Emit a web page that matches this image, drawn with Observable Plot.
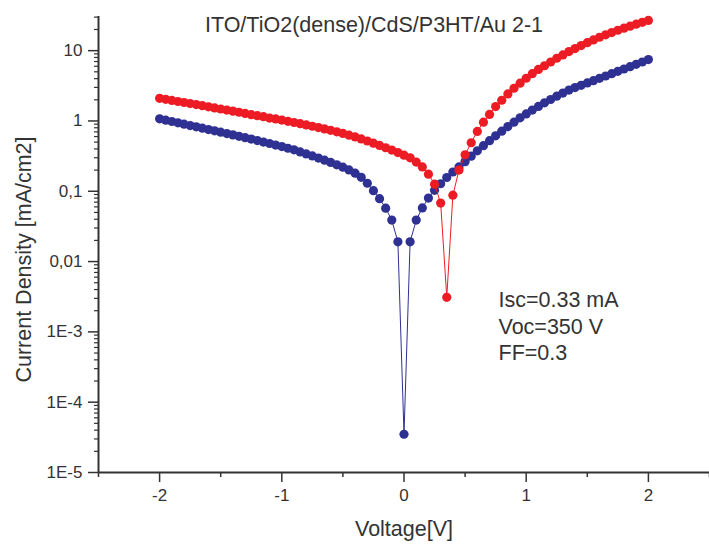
<!DOCTYPE html>
<html>
<head>
<meta charset="utf-8">
<script src="https://cdn.jsdelivr.net/npm/d3@7"></script>
<script src="https://cdn.jsdelivr.net/npm/@observablehq/plot@0.6"></script>
<style>
  html, body { margin: 0; padding: 0; background: #fff; }
</style>
</head>
<body>
<div id="chart"></div>
<script>
const titleText = "ITO/TiO2(dense)/CdS/P3HT/Au 2-1";
const xLabel = "Voltage[V]";
const yLabel = "Current Density [mA/cm2]";
const annotation = "Isc=0.33 mA\nVoc=350 V\nFF=0.3";

const voltages = [
  -2.00, -1.95, -1.90, -1.85, -1.80, -1.75, -1.70, -1.65, -1.60, -1.55,
  -1.50, -1.45, -1.40, -1.35, -1.30, -1.25, -1.20, -1.15, -1.10, -1.05,
  -1.00, -0.95, -0.90, -0.85, -0.80, -0.75, -0.70, -0.65, -0.60, -0.55,
  -0.50, -0.45, -0.40, -0.35, -0.30, -0.25, -0.20, -0.15, -0.10, -0.05,
  0.00,
  0.05, 0.10, 0.15, 0.20, 0.25, 0.30, 0.35, 0.40, 0.45, 0.50,
  0.55, 0.60, 0.65, 0.70, 0.75, 0.80, 0.85, 0.90, 0.95, 1.00,
  1.05, 1.10, 1.15, 1.20, 1.25, 1.30, 1.35, 1.40, 1.45, 1.50,
  1.55, 1.60, 1.65, 1.70, 1.75, 1.80, 1.85, 1.90, 1.95, 2.00
];

const blueJ = [
  1.072, 1.026, 0.982, 0.940, 0.900, 0.861, 0.824, 0.789, 0.755, 0.723,
  0.692, 0.662, 0.634, 0.605, 0.578, 0.552, 0.526, 0.501, 0.478, 0.454,
  0.432, 0.409, 0.388, 0.363, 0.340, 0.318, 0.297, 0.277, 0.257, 0.238,
  0.220, 0.201, 0.181, 0.158, 0.130, 0.102, 0.0785, 0.0575, 0.0389, 0.0191,
  0.000035,
  0.0191, 0.0389, 0.058, 0.080, 0.103, 0.128, 0.157, 0.188, 0.222, 0.264,
  0.316, 0.376, 0.445, 0.524, 0.614, 0.716, 0.832, 0.962, 1.107, 1.26,
  1.43, 1.61, 1.81, 2.02, 2.25, 2.49, 2.75, 2.98, 3.21, 3.47,
  3.74, 4.04, 4.36, 4.70, 5.08, 5.48, 5.92, 6.40, 6.90, 7.46
];

const redJ = [
  2.10, 2.03, 1.96, 1.89, 1.83, 1.77, 1.71, 1.65, 1.59, 1.53,
  1.48, 1.43, 1.38, 1.33, 1.28, 1.23, 1.19, 1.15, 1.10, 1.07,
  1.03, 0.989, 0.951, 0.914, 0.877, 0.841, 0.805, 0.771, 0.736, 0.700,
  0.664, 0.627, 0.592, 0.555, 0.519, 0.483, 0.449, 0.416, 0.385, 0.355,
  0.326,
  0.299, 0.26, 0.222, 0.175, 0.126, 0.068, 0.0031, 0.088, 0.20, 0.33,
  0.49, 0.71, 0.96, 1.24, 1.60, 1.97, 2.42, 2.92, 3.45, 4.05,
  4.70, 5.40, 6.10, 6.90, 7.80, 8.70, 9.70, 10.7, 11.8, 13.0,
  14.2, 15.5, 16.8, 18.1, 19.5, 20.9, 22.3, 23.8, 25.3, 26.9
];

const xMajorTicks = [-2, -1, 0, 1, 2];
const xMinorTicks = [-2.5, -1.5, -0.5, 0.5, 1.5, 2.5];
const yMajorTicks = [1e-5, 1e-4, 1e-3, 0.01, 0.1, 1, 10];
const yMajorLabels = ["1E-5", "1E-4", "1E-3", "0,01", "0,1", "1", "10"];
const yMinorTicks = [];
for (const d of yMajorTicks) for (let k = 2; k <= 9; k++) if (d * k <= 30.6) yMinorTicks.push(d * k);

const blueColor = "#2e3192";
const redColor = "#ed1c24";
const ink = "#333333";

const blue = voltages.map((v, i) => ({v, j: blueJ[i]}));
const red = voltages.map((v, i) => ({v, j: redJ[i]}));

const labelMap = new Map(yMajorTicks.map((t, i) => [t, yMajorLabels[i]]));

const chart = Plot.plot({
  width: 709,
  height: 547,
  marginLeft: 98,
  marginRight: 0,
  marginTop: 16,
  marginBottom: 75,
  style: {fontFamily: "'Liberation Sans', Arial, Helvetica, sans-serif", background: "#fff", color: ink},
  x: {domain: [-2.5, 2.5], axis: null},
  y: {type: "log", domain: [1e-5, 30.6], axis: null},
  marks: [
    Plot.axisX({ticks: xMajorTicks, tickSize: 10, tickPadding: 6, fontSize: 17, strokeWidth: 1.5, label: null, tickFormat: d => String(d)}),
    Plot.axisX({ticks: xMinorTicks, tickSize: 5, strokeWidth: 1.5, label: null, tickFormat: () => ""}),
    Plot.axisY({ticks: yMajorTicks, tickSize: 10, tickPadding: 6, fontSize: 17, strokeWidth: 1.5, label: null, tickFormat: d => labelMap.get(d)}),
    Plot.axisY({ticks: yMinorTicks, tickSize: 4, strokeWidth: 1.2, label: null, tickFormat: () => ""}),
    Plot.ruleX([-2.5], {stroke: ink, strokeWidth: 2}),
    Plot.ruleY([1e-5], {stroke: ink, strokeWidth: 2}),
    Plot.line(blue, {x: "v", y: "j", stroke: blueColor, strokeWidth: 1}),
    Plot.dot(blue, {x: "v", y: "j", r: 4.6, fill: blueColor, stroke: "none"}),
    Plot.line(red, {x: "v", y: "j", stroke: redColor, strokeWidth: 1}),
    Plot.dot(red, {x: "v", y: "j", r: 4.6, fill: redColor, stroke: "none"}),
    Plot.text([titleText], {text: d => d, frameAnchor: "top", dx: -30, dy: 15.7, lineAnchor: "bottom", fontSize: 21.5, fill: ink}),
    Plot.text([annotation], {text: d => d, frameAnchor: "top-left", dx: 400, dy: 271.5, lineAnchor: "top", textAnchor: "start", lineHeight: 1.24, fontSize: 21.5, fill: ink}),
    Plot.text([xLabel], {text: d => d, frameAnchor: "bottom", dy: 63, lineAnchor: "bottom", textAnchor: "middle", fontSize: 21.5, fill: ink}),
    Plot.text([yLabel], {text: d => d, frameAnchor: "left", dx: -67.5, dy: 15, rotate: -90, lineAnchor: "bottom", textAnchor: "middle", fontSize: 21.5, fill: ink})
  ]
});
document.getElementById("chart").appendChild(chart);
</script>
</body>
</html>
